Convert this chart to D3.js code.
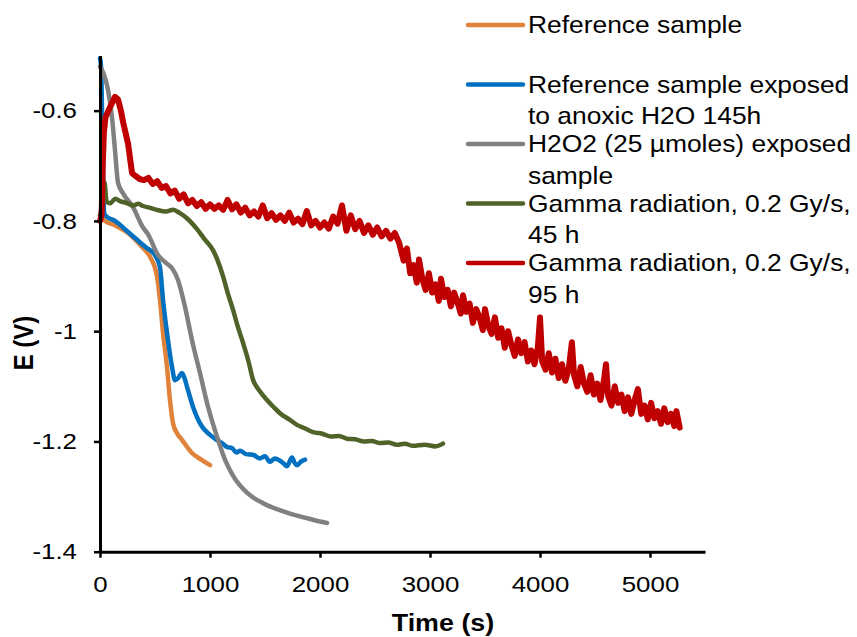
<!DOCTYPE html>
<html>
<head>
<meta charset="utf-8">
<script src="https://cdn.jsdelivr.net/npm/d3@7"></script>
<style>
  body { margin: 0; background: #fff; }
  text { font-family: "Liberation Sans", Arial, sans-serif; fill: #000; }
</style>
</head>
<body>
<script>
// Axis ticks
const timeTicks = [0, 1000, 2000, 3000, 4000, 5000];
const potentialTicks = [-0.6, -0.8, -1, -1.2, -1.4];

// Series names and colours
const seriesNames = [
    ["Reference sample"],
    ["Reference sample exposed", "to anoxic H2O 145h"],
    ["H2O2 (25 µmoles) exposed", "sample"],
    ["Gamma radiation, 0.2 Gy/s,", "45 h"],
    ["Gamma radiation, 0.2 Gy/s,", "95 h"]
];
const seriesColors = ["#E0823A", "#0070C0", "#808080", "#4F6228", "#C00000"];

// [time (s), E (V)]
const refSample = [[0,-0.79],[45,-0.80],[136,-0.808],[255,-0.822],[380,-0.847],[455,-0.865],[518,-0.90],
    [545,-0.943],[573,-1.003],[609,-1.065],[636,-1.125],[664,-1.167],[700,-1.185],[745,-1.197],
    [836,-1.221],[920,-1.233],[1000,-1.243]];

const refAnoxic = [[0,-0.505],[10,-0.52],[20,-0.62],[30,-0.74],[40,-0.787],[60,-0.792],[136,-0.80],
    [255,-0.82],[410,-0.847],[500,-0.862],[545,-0.884],[573,-0.943],[609,-1.003],[655,-1.065],
    [682,-1.089],[710,-1.085],[745,-1.076],[770,-1.086],[790,-1.10],[845,-1.137],[927,-1.173],
    [1000,-1.188],[1060,-1.197],[1109,-1.203],[1155,-1.21],[1200,-1.212],[1240,-1.220],[1273,-1.217],
    [1330,-1.223],[1391,-1.224],[1450,-1.231],[1500,-1.227],[1545,-1.237],[1590,-1.231],[1636,-1.235],
    [1670,-1.240],[1700,-1.245],[1745,-1.229],[1770,-1.239],[1791,-1.243],[1830,-1.236],[1864,-1.233]];

const h2o2Sample = [[0,-0.52],[20,-0.527],[73,-0.563],[109,-0.612],[136,-0.671],[164,-0.731],[209,-0.75],
    [300,-0.775],[391,-0.812],[436,-0.824],[527,-0.862],[600,-0.876],[655,-0.886],[709,-0.907],
    [773,-0.956],[836,-1.016],[909,-1.076],[982,-1.137],[1073,-1.197],[1140,-1.235],[1209,-1.262],
    [1336,-1.293],[1482,-1.312],[1700,-1.329],[1936,-1.342],[2064,-1.348]];

const gamma45h = [[0,-0.79],[20,-0.77],[40,-0.73],[60,-0.765],[91,-0.768],[140,-0.760],[182,-0.764],
    [250,-0.768],[300,-0.772],[350,-0.769],[391,-0.773],[450,-0.776],[518,-0.78],[600,-0.783],
    [664,-0.780],[727,-0.786],[800,-0.797],[882,-0.815],[950,-0.833],[1027,-0.853],[1070,-0.872],
    [1118,-0.90],[1160,-0.93],[1209,-0.961],[1250,-0.99],[1300,-1.021],[1350,-1.055],[1391,-1.088],
    [1450,-1.108],[1518,-1.125],[1580,-1.138],[1636,-1.149],[1720,-1.160],[1791,-1.170],[1860,-1.176],
    [1936,-1.183],[2020,-1.186],[2100,-1.191],[2170,-1.190],[2245,-1.195],[2320,-1.196],[2400,-1.200],
    [2470,-1.199],[2545,-1.203],[2620,-1.202],[2700,-1.206],[2770,-1.204],[2845,-1.208],[2950,-1.206],
    [3050,-1.209],[3118,-1.204]];

const gamma95h = [[0,-0.80],[15,-0.79],[25,-0.70],[35,-0.64],[50,-0.612],[91,-0.594],[136,-0.575],
    [164,-0.58],[190,-0.60],[209,-0.62],[255,-0.66],[291,-0.713],[320,-0.718],[360,-0.724],
    [400,-0.726],[440,-0.722],[480,-0.733],[520,-0.728],[560,-0.740],[600,-0.737],[640,-0.750],
    [680,-0.745],[720,-0.760],[760,-0.752],[800,-0.768],[840,-0.762],[880,-0.773],[920,-0.766],
    [960,-0.778],[1000,-0.770],[1040,-0.778],[1080,-0.772],[1120,-0.780],[1160,-0.762],[1200,-0.779],
    [1240,-0.770],[1280,-0.785],[1320,-0.776],[1360,-0.790],[1400,-0.783],[1440,-0.792],[1480,-0.772],
    [1520,-0.795],[1560,-0.786],[1600,-0.798],[1640,-0.790],[1680,-0.800],[1720,-0.785],[1760,-0.803],
    [1800,-0.796],[1840,-0.806],[1880,-0.782],[1920,-0.808],[1960,-0.800],[2000,-0.812],[2040,-0.803],
    [2080,-0.814],[2120,-0.792],[2160,-0.805],[2200,-0.772],[2240,-0.818],[2280,-0.790],[2320,-0.815],
    [2360,-0.800],[2400,-0.822],[2440,-0.808],[2480,-0.825],[2520,-0.812],[2560,-0.828],[2600,-0.818],
    [2640,-0.832],[2680,-0.822],[2720,-0.840],[2760,-0.872],[2790,-0.850],[2820,-0.895],[2850,-0.880],
    [2880,-0.912],[2900,-0.870],[2930,-0.905],[2960,-0.925],[2990,-0.895],[3020,-0.930],[3050,-0.915],
    [3080,-0.945],[3100,-0.905],[3130,-0.938],[3160,-0.925],[3190,-0.955],[3220,-0.930],[3250,-0.948],
    [3280,-0.968],[3300,-0.935],[3330,-0.965],[3360,-0.950],[3390,-0.985],[3420,-0.960],[3450,-0.975],
    [3480,-0.998],[3500,-0.960],[3530,-0.990],[3560,-1.005],[3590,-0.975],[3620,-1.012],[3650,-0.995],
    [3680,-1.030],[3710,-1.000],[3740,-1.025],[3770,-1.045],[3800,-1.015],[3830,-1.040],[3860,-1.020],
    [3890,-1.055],[3920,-1.035],[3950,-1.060],[3980,-1.030],[4000,-0.975],[4020,-1.055],[4050,-1.070],
    [4080,-1.040],[4110,-1.075],[4140,-1.050],[4170,-1.085],[4200,-1.060],[4230,-1.090],[4260,-1.070],
    [4290,-1.020],[4310,-1.080],[4340,-1.100],[4370,-1.065],[4400,-1.095],[4430,-1.110],[4460,-1.080],
    [4490,-1.115],[4520,-1.095],[4550,-1.125],[4580,-1.090],[4600,-1.060],[4620,-1.118],[4650,-1.135],
    [4680,-1.100],[4710,-1.130],[4740,-1.115],[4770,-1.145],[4800,-1.120],[4830,-1.150],[4860,-1.125],
    [4890,-1.105],[4920,-1.150],[4950,-1.135],[4980,-1.160],[5010,-1.130],[5040,-1.158],[5070,-1.145],
    [5100,-1.168],[5130,-1.140],[5160,-1.165],[5190,-1.150],[5220,-1.172],[5240,-1.145],[5270,-1.175]];

const allSeries = [refSample, refAnoxic, h2o2Sample, gamma45h, gamma95h];

document.addEventListener("DOMContentLoaded", function() {
    const width = 857;
    const height = 637;

    const svg = d3.select("body").append("svg")
        .attr("width", width)
        .attr("height", height);

    svg.append("rect").attr("width", width).attr("height", height).attr("fill", "#fff");

    // text in the picture is a bit wider than normal Arial
    function stretch(sel, k) {
        sel.each(function() {
            const t = d3.select(this);
            const x = +t.attr("x") || 0;
            t.attr("transform", "translate(" + x + ",0) scale(" + k + ",1) translate(" + (-x) + ",0)");
        });
    }

    const xScale = d3.scaleLinear().domain([0, 5500]).range([100, 705]);
    const yScale = d3.scaleLinear().domain([-1.4, -0.5]).range([551.7, 55.5]);

    // lines first, axes on top
    const line = d3.line()
        .x(d => xScale(d[0]))
        .y(d => yScale(d[1]));

    allSeries.forEach((data, i) => {
        svg.append("path")
            .datum(data)
            .attr("fill", "none")
            .attr("stroke", seriesColors[i])
            .attr("stroke-width", i === 4 ? 6 : 4.5)
            .attr("stroke-linejoin", "round")
            .attr("stroke-linecap", "round")
            .attr("d", line.curve(i === 4 ? d3.curveLinear : d3.curveMonotoneX));
    });

    // x axis
    const xAxis = d3.axisBottom(xScale)
        .tickValues(timeTicks)
        .tickSizeInner(6)
        .tickSizeOuter(0)
        .tickPadding(18)
        .tickFormat(d3.format("d"));
    const gx = svg.append("g")
        .attr("transform", "translate(0," + yScale(-1.4) + ")")
        .call(xAxis);

    // y axis
    const yAxis = d3.axisLeft(yScale)
        .tickValues(potentialTicks)
        .tickSizeInner(6)
        .tickSizeOuter(0)
        .tickPadding(17)
        .tickFormat(d => String(+d.toFixed(1)));
    const gy = svg.append("g")
        .attr("transform", "translate(" + xScale(0) + ",0)")
        .call(yAxis);

    [gx, gy].forEach(g => {
        g.select(".domain").attr("stroke", "#000").attr("stroke-width", 3);
        g.selectAll(".tick line").attr("stroke", "#000").attr("stroke-width", 2.5);
        g.selectAll(".tick text")
            .attr("font-size", "22.5px")
            .attr("font-family", "Liberation Sans, Arial, sans-serif")
            .call(stretch, 1.15);
    });

    // axis titles
    svg.append("text")
        .attr("x", 443)
        .attr("y", 631)
        .attr("text-anchor", "middle")
        .attr("font-size", "24px")
        .attr("font-weight", "bold")
        .text("Time (s)")
        .call(stretch, 1.12);

    svg.append("text")
        .attr("transform", "translate(33,343) scale(1.12,1) rotate(-90)")
        .attr("text-anchor", "middle")
        .attr("font-size", "24px")
        .attr("font-weight", "bold")
        .text("E (V)");

    // legend
    const legend = svg.append("g");
    seriesNames.forEach((lines, i) => {
        const cy = 25 + i * 59.5;
        legend.append("line")
            .attr("x1", 468).attr("x2", 523)
            .attr("y1", cy).attr("y2", cy)
            .attr("stroke", seriesColors[i])
            .attr("stroke-width", 4.5)
            .attr("stroke-linecap", "round");
        lines.forEach((txt, j) => {
            legend.append("text")
                .attr("x", 528)
                .attr("y", cy + 8.5 + j * 31.5)
                .attr("font-size", "24px")
                .text(txt)
                .call(stretch, 1.1);
        });
    });
});
</script>
</body>
</html>
